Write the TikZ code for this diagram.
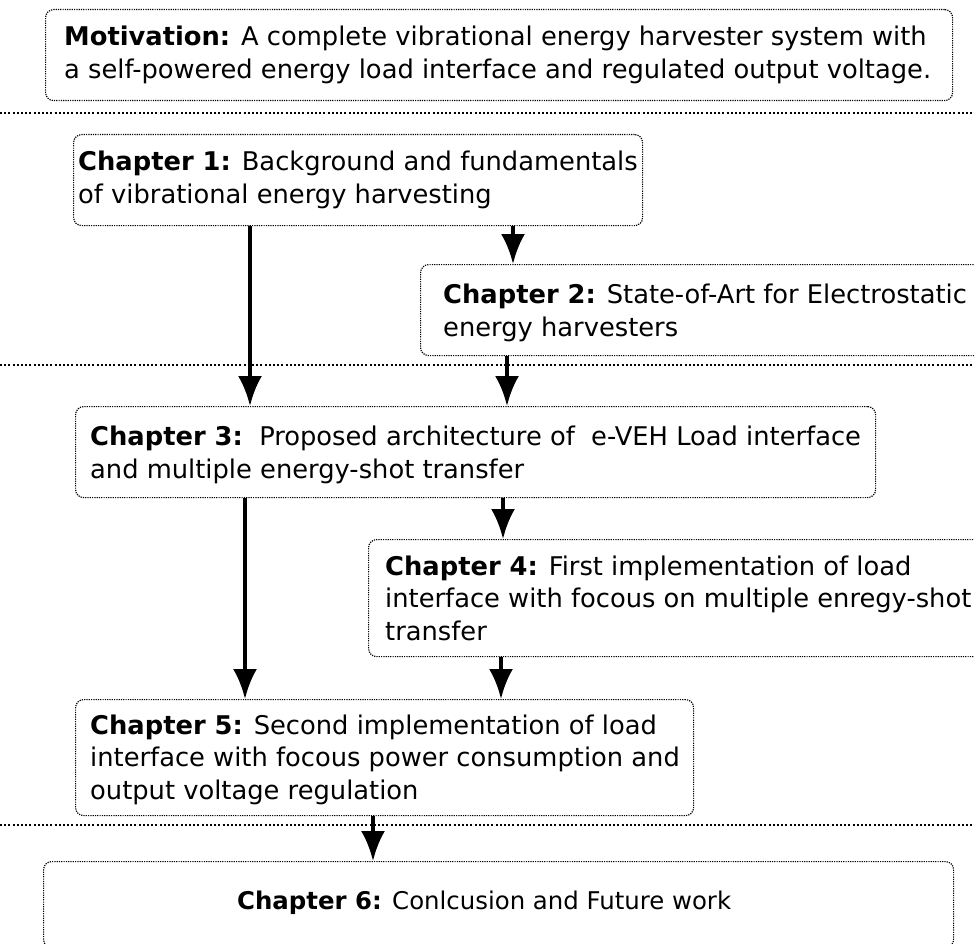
\documentclass[tikz,border=0pt]{standalone}
\usepackage{fontspec}
\setmainfont{DejaVu Sans}
\usetikzlibrary{arrows.meta}

\begin{document}
\begin{tikzpicture}[x=1pt,y=1pt,
    box/.style={draw,rounded corners=8pt,line width=1.2pt,dash pattern=on 1.2pt off 1.1pt,anchor=north west,inner sep=0pt},
    txt/.style={anchor=west,align=left,inner sep=0pt,font=\fontsize{25.75}{32.5}\selectfont},
    sep/.style={line width=2pt,dash pattern=on 2pt off 2.2pt},
    arr/.style={line width=4pt,-{Latex[length=30pt,width=24pt]}}]
            \useasboundingbox (0,0) rectangle (974,-944);

            % boxes
            \node[box,minimum width=907pt,minimum height=91pt]  (mot) at ( 45,  -9) {};
            \node[box,minimum width=569pt,minimum height=91pt]  (ch1) at ( 73,-134) {};
            \node[box,minimum width=600pt,minimum height=91pt]  (ch2) at (420,-264) {};
            \node[box,minimum width=800pt,minimum height=91pt]  (ch3) at ( 75,-406) {};
            \node[box,minimum width=640pt,minimum height=117pt] (ch4) at (368,-539) {};
            \node[box,minimum width=618pt,minimum height=116pt] (ch5) at ( 75,-699) {};
            \node[box,minimum width=910pt,minimum height=86pt]  (ch6) at ( 43,-861) {};

            % texts
            \node[txt] (motT) at ([xshift=19pt]mot.west) {\textbf{Motivation:} A complete vibrational energy harvester system with\\a self-powered energy load interface and regulated output voltage.};
            \node[txt] (ch1T) at ([xshift=5pt]ch1.west) {\textbf{Chapter 1:} Background and fundamentals\\of vibrational energy harvesting};
            \node[txt] (ch2T) at ([xshift=23pt,yshift=-3pt]ch2.west) {\textbf{Chapter 2:} State-of-Art for Electrostatic\\energy harvesters};
            \node[txt] (ch3T) at ([xshift=15pt,yshift=-3pt]ch3.west) {\textbf{Chapter 3:}\ \ Proposed architecture of\ \ e-VEH Load interface\\and multiple energy-shot transfer};
            \node[txt] (ch4T) at ([xshift=17pt]ch4.west) {\textbf{Chapter 4:} First implementation of load\\interface with focous on multiple enregy-shot\\transfer};
            \node[txt] (ch5T) at ([xshift=15pt,yshift=-2pt]ch5.west) {\textbf{Chapter 5:} Second implementation of load\\interface with focous power consumption and\\output voltage regulation};
            \node[txt,font=\fontsize{24.4}{32}\selectfont] (ch6T) at ([xshift=194pt,yshift=2pt]ch6.west) {\textbf{Chapter 6:} Conlcusion and Future work};

            % separators
            \coordinate (s1a) at (0,-113);   \coordinate (s1b) at (974,-113);
            \coordinate (s2a) at (0,-365);   \coordinate (s2b) at (974,-365);
            \coordinate (s3a) at (0,-825);   \coordinate (s3b) at (974,-825);
            \draw[sep] (s1a) -- (s1b);
            \draw[sep] (s2a) -- (s2b);
            \draw[sep] (s3a) -- (s3b);

            % arrows
            \draw[arr] ([xshift=177pt]ch1.south west) -- ([xshift=175pt]ch3.north west);
            \draw[arr] ([xshift=440pt]ch1.south west) -- ([xshift=93pt]ch2.north west);
            \draw[arr] ([xshift=87pt]ch2.south west)  -- ([xshift=432pt]ch3.north west);
            \draw[arr] ([xshift=170pt]ch3.south west) -- ([xshift=170pt]ch5.north west);
            \draw[arr] ([xshift=428pt]ch3.south west) -- ([xshift=135pt]ch4.north west);
            \draw[arr] ([xshift=133pt]ch4.south west) -- ([xshift=426pt]ch5.north west);
            \draw[arr] ([xshift=298pt]ch5.south west) -- ([xshift=330pt]ch6.north west);
          \end{tikzpicture}
\end{document}
